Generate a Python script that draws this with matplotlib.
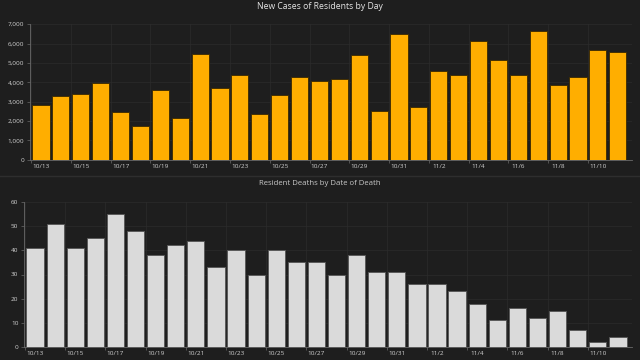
import matplotlib
matplotlib.use("Agg")
import matplotlib.pyplot as plt
import numpy as np

dates = ["10/13","10/14","10/15","10/16","10/17","10/18","10/19","10/20","10/21","10/22",
         "10/23","10/24","10/25","10/26","10/27","10/28","10/29","10/30","10/31","11/1",
         "11/2","11/3","11/4","11/5","11/6","11/7","11/8","11/9","11/10","11/11"]
new_cases = [2850, 3300, 3380, 3980, 2480, 1750, 3580, 2150, 5450, 3700,
             4380, 2350, 3330, 4250, 4050, 4150, 5420, 2520, 6500, 2700,
             4560, 4350, 6150, 5170, 4380, 6640, 3850, 4280, 5680, 5550]
deaths = [41, 51, 41, 45, 55, 48, 38, 42, 44, 33,
          40, 30, 40, 35, 35, 30, 38, 31, 31, 26,
          26, 23, 18, 11, 16, 12, 15, 7, 2, 4]

plt.rcParams['font.family'] = ['Open Sans', 'DejaVu Sans']
bg = '#1e1e1e'
fig = plt.figure(figsize=(6.4, 3.6), dpi=100, facecolor=bg)

x = np.arange(len(dates))

def style(ax, yticks, fmt):
    ax.set_facecolor(bg)
    for s in ['top', 'right']:
        ax.spines[s].set_visible(False)
    for s in ['left', 'bottom']:
        ax.spines[s].set_color('#6a6a6a')
        ax.spines[s].set_linewidth(0.6)
    ax.set_yticks(yticks)
    ax.set_yticklabels([fmt(v) for v in yticks])
    ax.set_xticks(x[::2] - 0.5, minor=False)
    ax.set_xticklabels([])
    ax.set_xticks(x[::2], minor=True)
    ax.set_xticklabels(dates[::2], minor=True)
    ax.tick_params(axis='x', which='minor', length=0, labelsize=4.6, colors='#d0d0d0', pad=3)
    ax.tick_params(axis='x', which='major', length=2, color='#6a6a6a', width=0.5)
    ax.tick_params(axis='y', labelsize=4.6, colors='#d0d0d0', length=2, color='#6a6a6a', width=0.5, pad=2)
    ax.grid(True, which='major', color='#2c2c2c', linewidth=0.5)
    ax.set_axisbelow(True)
    ax.set_xlim(-0.55, len(dates) - 0.3)

ax1 = fig.add_axes([0.047, 0.556, 0.94, 0.377])
ax1.bar(x, new_cases, width=0.86, color='#ffae00', edgecolor='#3a2800', linewidth=0.6)
ax1.set_ylim(0, 7000)
style(ax1, range(0, 7001, 1000), lambda v: f"{v:,}")
fig.text(0.5, 0.981, "New Cases of Residents by Day", ha='center', va='center',
         fontsize=6.2, color='#e6e6e6')

ax2 = fig.add_axes([0.0375, 0.036, 0.95, 0.403])
ax2.bar(x, deaths, width=0.86, color='#dadada', edgecolor='#555555', linewidth=0.6)
ax2.set_ylim(0, 60)
style(ax2, range(0, 61, 10), lambda v: f"{v}")
fig.text(0.5, 0.489, "Resident Deaths by Date of Death", ha='center', va='center',
         fontsize=5.6, color='#c8c8c8')

fig.add_artist(plt.Line2D([0, 1], [0.512, 0.512], color='#2e2e2e', linewidth=1.0))

fig.savefig("out.png", dpi=100, facecolor=bg)
